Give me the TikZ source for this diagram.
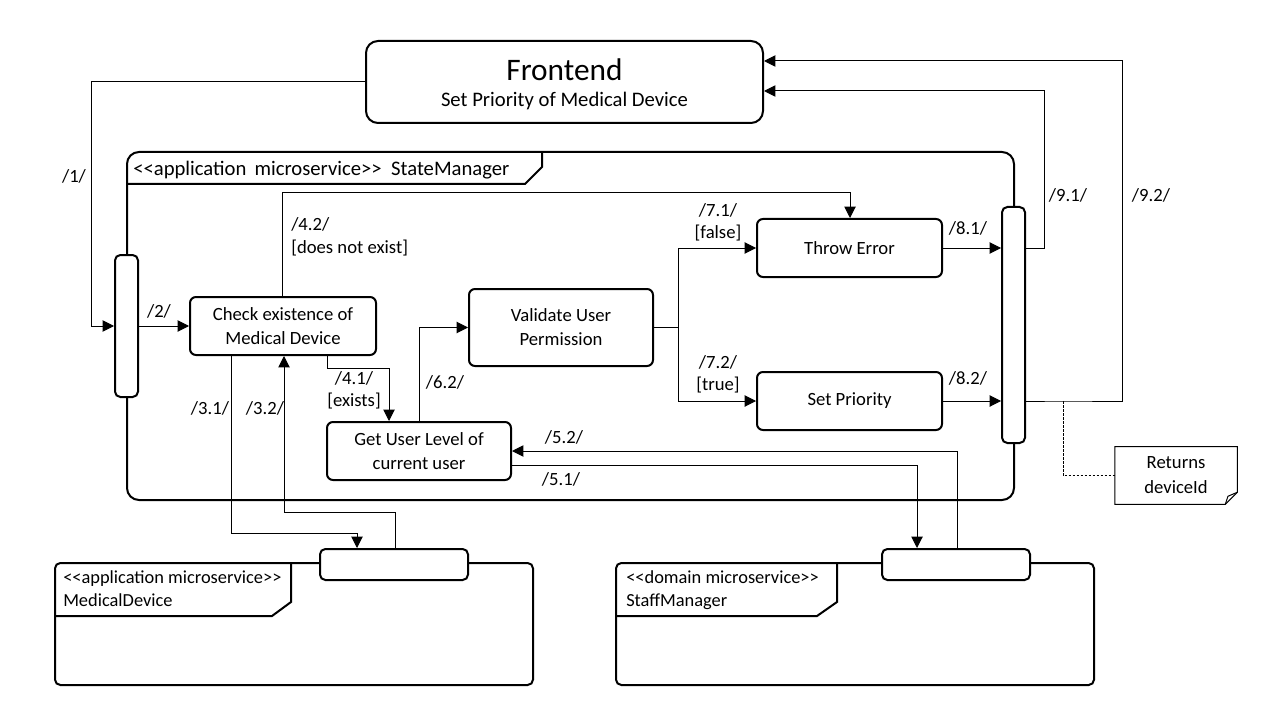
\documentclass[tikz,border=0pt]{standalone}
\usepackage{fontspec}
\setmainfont{Carlito}
\usetikzlibrary{arrows.meta}
\begin{document}
\begin{tikzpicture}[x=0.75pt,y=-0.75pt,
  box/.style={draw, line width=1.5pt, rounded corners=4.5pt, fill=white, align=center,
    font=\fontsize{14}{18}\selectfont, inner sep=0pt},
  bar/.style={draw, line width=1.5pt, rounded corners=4pt, fill=white, inner sep=0pt,
    minimum width=17.25pt},
  port/.style={draw, line width=1.5pt, rounded corners=4pt, fill=white, inner sep=0pt,
    minimum width=111pt, minimum height=23.25pt},
  frameline/.style={draw, line width=1.5pt},
  conn/.style={line width=0.75pt, -{Triangle[length=8.5pt,width=8.5pt]}},
  wire/.style={line width=0.75pt},
  lbl/.style={font=\fontsize{14}{17}\selectfont, inner sep=0pt},
  ftxt/.style={font=\fontsize{13.8}{17}\selectfont, inner sep=0pt, anchor=base west},
]
% canvas
\fill[white] (0,0) rectangle (1280,720);
\useasboundingbox (0,0) rectangle (1280,720);

% ---------- frames ----------
% StateManager
\draw[frameline, rounded corners=9pt] (127,152) rectangle (1014,500);
\draw[frameline] (127,184) -- (525,184) -- (542,167) -- (542,152);
\node[anchor=west, inner sep=0pt, font=\fontsize{15.5}{18}\selectfont] (smt) at (133,170)
  {<{}<application\ \,microservice>{}>\ \ StateManager};

% MedicalDevice
\draw[frameline, rounded corners=4pt] (55,563) rectangle (533,685);
\draw[frameline] (55,616) -- (272,616) -- (291,602) -- (291,563);
\node[ftxt] (mdt1) at (63,583) {<{}<application microservice>{}>};
\node[ftxt] (mdt2) at (63,606) {MedicalDevice};

% StaffManager
\draw[frameline, rounded corners=4pt] (616,563) rectangle (1094,685);
\draw[frameline] (616,616) -- (817,616) -- (837,602) -- (837,563);
\node[ftxt] (sft1) at (626,583) {<{}<domain microservice>{}>};
\node[ftxt] (sft2) at (626,606) {StaffManager};

% ---------- nodes ----------
\node[box, rounded corners=9pt, minimum width=297.75pt, minimum height=61.5pt] (fe) at (564.5,82) {};
\node[inner sep=0pt, font=\fontsize{23.5}{28}\selectfont] (fet) at (564.5,70) {Frontend};
\node[inner sep=0pt, font=\fontsize{15.5}{18}\selectfont] (fes) at (564.5,101) {Set Priority of Medical Device};

\node[bar, minimum height=106.5pt] (lbar) at (126.5,326) {};
\node[bar, minimum height=177pt] (rbar) at (1013.5,325) {};

\node[box, minimum width=139.5pt, minimum height=43.5pt] (chk) at (283,326) {Check existence of\\Medical Device};
\node[box, minimum width=138pt, minimum height=57.75pt] (val) at (561,327.5) {Validate User\\Permission};
\node[box, minimum width=138pt, minimum height=43.5pt] (gul) at (419,451) {Get User Level of\\current user};
\node[box, minimum width=138.75pt, minimum height=43.5pt] (thr) at (849.5,248) {Throw Error};
\node[box, minimum width=138.75pt, minimum height=43.5pt] (spr) at (849.5,401) {Set Priority};

\node[port] (mdp) at (394,564.5) {};
\node[port] (smp) at (956,564.5) {};

% note with folded corner
\node[minimum width=91.5pt, minimum height=42.75pt, inner sep=0pt, align=center,
  font=\fontsize{14}{18.75}\selectfont] (note) at (1176,475.5) {Returns\\deviceId};
\draw[line width=0.75pt] (note.north west) -- (note.north east) -- ([yshift=9pt]note.south east)
  -- ([xshift=-9pt]note.south east) -- (note.south west) -- cycle;
\draw[line width=0.75pt] ([yshift=9pt]note.south east) -- ([xshift=-7pt,yshift=6pt]note.south east)
  -- ([xshift=-9pt]note.south east);

% ---------- connectors ----------
\draw[conn] (fe.west) -- ++(-274,0) |- (lbar.west);
\draw[conn] (lbar.east) -- (chk.west);
\draw[conn] ([xshift=-39pt]chk.south) -- ++(0,177) -| ([xshift=-27.75pt]mdp.north);
\draw[conn] ([xshift=0.75pt]mdp.north) -- ++(0,-36) -| ([xshift=0.75pt]chk.south);
\draw[conn] ([xshift=33pt]chk.south) -- ++(0,12) -| ([xshift=-22.5pt]gul.north);
\draw[conn] ([xshift=-0.75pt]chk.north) -- ++(0,-103) -| ([xshift=0.375pt]thr.north);
\draw[conn] (gul.north) |- (val.west);
\draw[wire] (val.east) -- ++(24,0) coordinate (br);
\draw[conn] (br) |- (thr.west);
\draw[conn] (br) |- (spr.west);
\draw[conn] (thr.east) -- (thr.east -| rbar.west);
\draw[conn] (spr.east) -- (spr.east -| rbar.west);
\draw[conn] (thr.east -| rbar.east) -- ++(18,0) |- ([yshift=-6.75pt]fe.east);
\draw[conn] (spr.east -| rbar.east) -- ++(37,0) coordinate (tap) -- ++(59,0) |- ([yshift=15.75pt]fe.east);
\draw[conn] ([yshift=-10.5pt]gul.east) -| ([xshift=-29.25pt]smp.north);
\draw[conn] ([xshift=0.75pt]smp.north) |- (gul.east);
\draw[line width=0.6pt, dashed, dash pattern=on 2pt off 1pt] (tap) |- (note.west);

% ---------- labels ----------
\node[lbl] (l1) at (74,176) {/1/};
\node[lbl] (l2) at (159,311) {/2/};
\node[lbl] (l31) at (210,408) {/3.1/};
\node[lbl] (l32) at (265,408) {/3.2/};
\node[lbl] (l41) at (354,378) {/4.1/};
\node[lbl] (l41g) at (354,401) {[exists]};
\node[lbl, anchor=west] (l42) at (291,224) {/4.2/};
\node[lbl, anchor=west] (l42g) at (291,248) {[does not exist]};
\node[lbl] (l62) at (445,382) {/6.2/};
\node[lbl] (l71) at (718,210) {/7.1/};
\node[lbl] (l71g) at (718,233) {[false]};
\node[lbl] (l72) at (718,362) {/7.2/};
\node[lbl] (l72g) at (718,385) {[true]};
\node[lbl] (l81) at (968,228) {/8.1/};
\node[lbl] (l82) at (968,378) {/8.2/};
\node[lbl] (l91) at (1068,195) {/9.1/};
\node[lbl] (l92) at (1151,195) {/9.2/};
\node[lbl] (l52) at (564,437) {/5.2/};
\node[lbl] (l51) at (561,479) {/5.1/};
\end{tikzpicture}
\end{document}
